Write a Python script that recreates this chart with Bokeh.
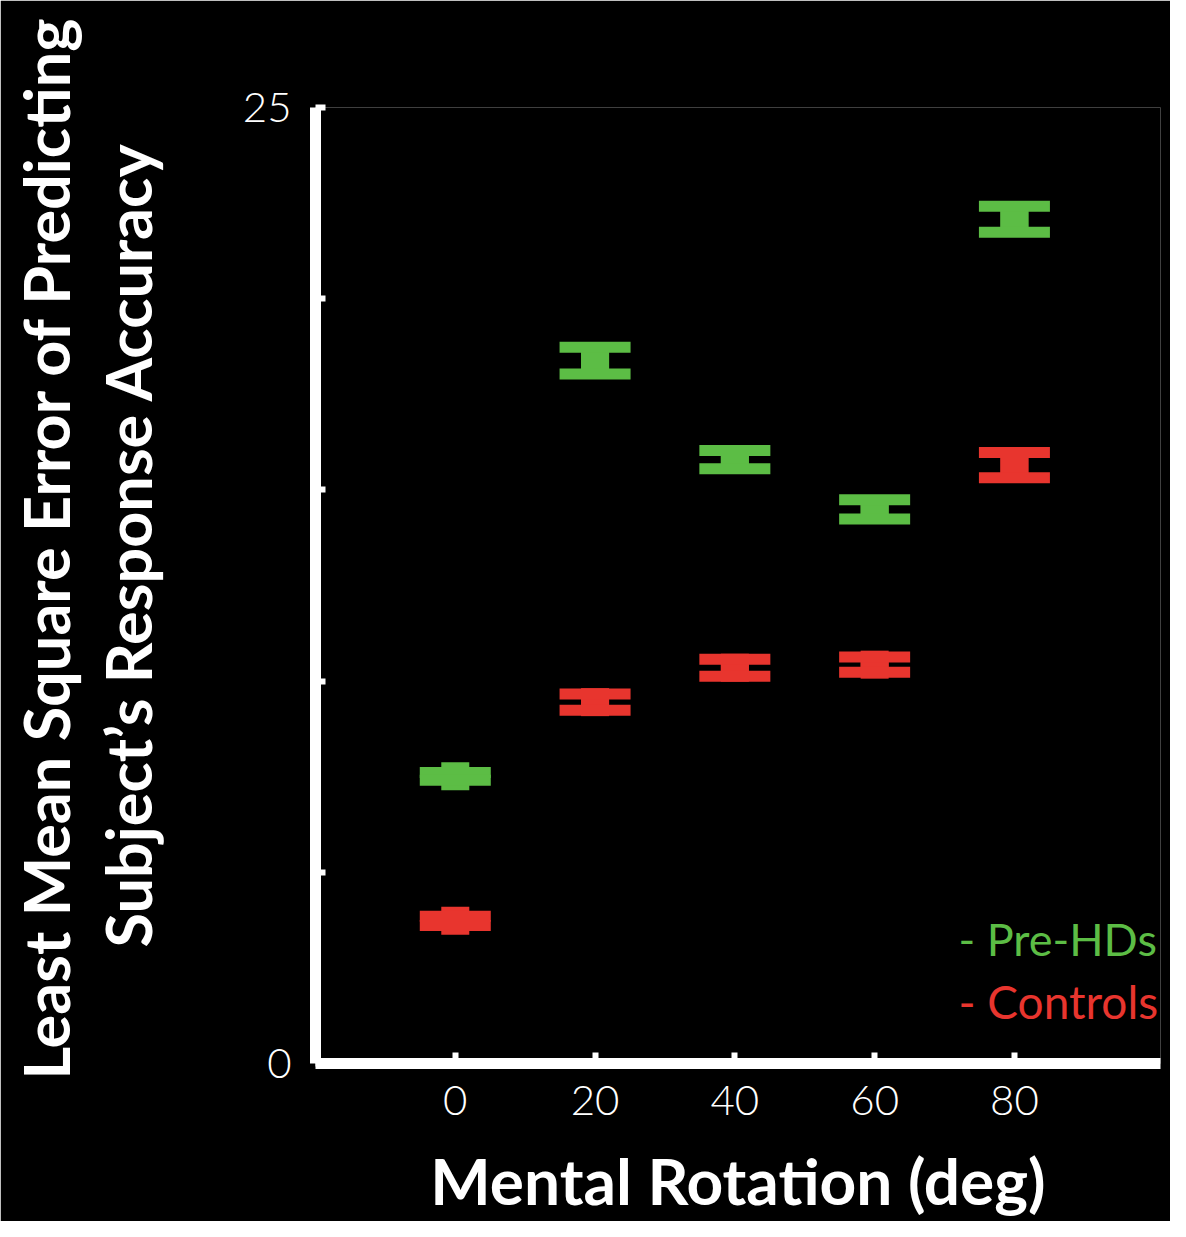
import numpy as np
from bokeh.plotting import figure
from bokeh.models import Range1d, FixedTicker, Label, ColumnDataSource, Title
from bokeh.embed import file_html
from bokeh.resources import INLINE

# ---- data ----
rotation = [0, 20, 40, 60, 80]
pre_hd_mean = [7.51, 18.38, 15.79, 14.49, 22.08]
pre_hd_err = [0.10, 0.35, 0.24, 0.25, 0.34]
control_mean = [3.73, 9.45, 10.35, 10.43, 15.65]
control_err = [0.12, 0.21, 0.22, 0.20, 0.33]
y_ticks = [0, 5, 10, 15, 20, 25]
y_tick_labels = {0: "0", 5: "", 10: "", 15: "", 20: "", 25: "25"}
y_title_lines = ["Least Mean Square Error of Predicting", "Subject\u2019s Response Accuracy"]
x_title = "Mental Rotation (deg)"
series_names = ["- Pre-HDs", "- Controls"]

GREEN = "#5cbd45"
RED = "#e8352e"
TITLE_FONT = "Lato"
TICK_FONT = "Lato Light, Lato"

p = figure(width=1170, height=1221, output_backend="svg", toolbar_location=None,
           x_range=Range1d(-20, 100.9), y_range=Range1d(0, 25),
           min_border_left=315, min_border_top=107, min_border_right=10, min_border_bottom=155)
p.background_fill_color = "black"
p.border_fill_color = "black"
p.outline_line_color = None
p.xgrid.visible = False
p.ygrid.visible = False

for ax in (p.xaxis[0], p.yaxis[0]):
    ax.axis_line_color = "white"
    ax.axis_line_width = 11
    ax.major_tick_line_color = "white"
    ax.major_tick_line_width = 6
    ax.major_tick_out = 0
    ax.minor_tick_line_color = None
    ax.major_label_text_color = "white"
    ax.major_label_text_font = TICK_FONT
    ax.major_label_text_font_size = "42px"
    ax.major_label_text_font_style = "normal"

p.xaxis.ticker = FixedTicker(ticks=rotation)
p.xaxis.major_tick_in = 11
p.xaxis.major_label_standoff = 22
p.xaxis.axis_label = x_title
p.xaxis.axis_label_text_color = "white"
p.xaxis.axis_label_text_font = TITLE_FONT
p.xaxis.axis_label_text_font_style = "bold"
p.xaxis.axis_label_text_font_size = "64px"
p.xaxis.axis_label_standoff = 24

p.yaxis.ticker = FixedTicker(ticks=y_ticks)
p.yaxis.major_label_overrides = y_tick_labels
p.yaxis.major_tick_in = 10
p.yaxis.major_label_standoff = 24

# spacer between the y axis and the two-line y title
p.add_layout(Title(text=" ", text_font_size="1px", standoff=70,
                   text_color="black"), "left")
# two-line y title as side titles (inner line first)
p.add_layout(Title(text=y_title_lines[1], align="left", offset=116, standoff=4,
                   text_color="white", text_font=TITLE_FONT, text_font_style="bold",
                   text_font_size="63px"), "left")
p.add_layout(Title(text=y_title_lines[0], align="left", offset=-16, standoff=6,
                   text_color="white", text_font=TITLE_FONT, text_font_style="bold",
                   text_font_size="63px"), "left")


def draw(mean, err, color):
    mean = np.array(mean)
    err = np.array(err)
    src = ColumnDataSource(dict(x=rotation, y=mean, h=2 * err,
                                top=mean + err, bot=mean - err))
    p.rect(x="x", y="y", width=28, width_units="screen", height="h",
           source=src, fill_color=color, line_color=None)
    p.scatter(x="x", y="y", marker="square", size=28, source=src,
              fill_color=color, line_color=None)
    for key in ("top", "bot"):
        p.rect(x="x", y=key, width=71, width_units="screen", height=11,
               height_units="screen", source=src, fill_color=color, line_color=None)


draw(pre_hd_mean, pre_hd_err, GREEN)
draw(control_mean, control_err, RED)

# legend texts
p.add_layout(Label(x=71.99, y=3.26, text=series_names[0], text_align="left",
                   text_baseline="middle", text_color=GREEN, text_font=TITLE_FONT,
                   text_font_size="45px"))
p.add_layout(Label(x=71.99, y=1.62, text=series_names[1], text_align="left",
                   text_baseline="middle", text_color=RED, text_font=TITLE_FONT,
                   text_font_size="46px"))

open("out.html", "w").write(file_html(p, INLINE))
